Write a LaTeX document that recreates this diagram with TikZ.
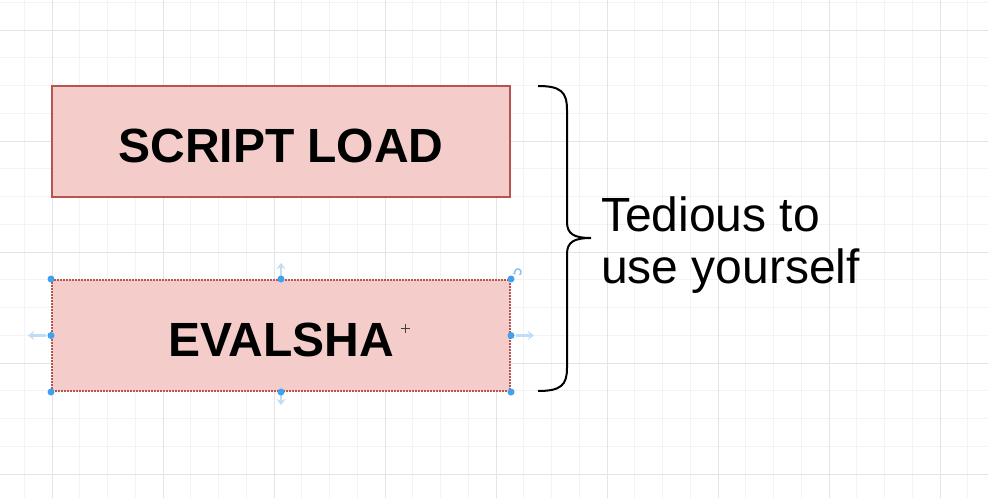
\documentclass[tikz,border=0pt]{standalone}
\usepackage{fontspec}
\setmainfont{Liberation Sans}
\definecolor{boxfill}{HTML}{F4CDCB}
\definecolor{boxline}{HTML}{B85450}
\definecolor{gridminor}{HTML}{F3F3F3}
\definecolor{gridmajor}{HTML}{E4E4E4}
\definecolor{handle}{HTML}{3EA2EE}
\definecolor{handlefaint}{HTML}{BFDDF6}
\tikzset{
  box/.style={draw=boxline, line width=2pt, fill=boxfill, minimum width=458pt, minimum height=111pt, inner sep=0pt, text height=42pt, text depth=0pt, font=\fontsize{48}{50}\selectfont\bfseries},
  hdot/.style={circle, fill=handle, minimum size=7pt, inner sep=0pt},
  harrow/.style={draw=handlefaint, line width=2.2pt, -{Stealth[length=6pt,width=9pt]}},
  bracestyle/.style={draw=black, line width=2pt},
}
\usetikzlibrary{arrows.meta}
\begin{document}
\begin{tikzpicture}[x=1pt,y=-1pt]
\path[use as bounding box, fill=white] (0,0) rectangle (988,498);
% grid
\foreach \i in {0,...,35} {
  \pgfmathsetmacro{\gx}{24.25+27.75*\i}
  \draw[gridminor, line width=0.8pt] (\gx,0) -- (\gx,498);
}
\foreach \i in {0,...,18} {
  \pgfmathsetmacro{\gy}{2.25+27.75*\i}
  \draw[gridminor, line width=0.8pt] (0,\gy) -- (988,\gy);
}
\foreach \i in {0,...,8} {
  \pgfmathsetmacro{\gx}{52+111*\i}
  \draw[gridmajor, line width=0.8pt] (\gx,0) -- (\gx,498);
}
\foreach \i in {0,...,4} {
  \pgfmathsetmacro{\gy}{30+111*\i}
  \draw[gridmajor, line width=0.8pt] (0,\gy) -- (988,\gy);
}
% boxes
\node[box] (load) at (281,141) {SCRIPT LOAD};
\node[box, dash pattern=on 2pt off 1pt] (eval) at (281,335.5) {EVALSHA};
% selection handles
\draw[harrow] ([yshift=-4pt]eval.north) -- ++(0,-20);
\draw[harrow] ([yshift=5pt]eval.south) -- ++(0,18);
\draw[harrow] ([xshift=-5pt]eval.west) -- ++(-18,0);
\draw[harrow] ([xshift=5pt]eval.east) -- ++(18,0);
\foreach \a in {north west,north,north east,east,south east,south,south west,west}
  \node[hdot] at (eval.\a) {};
\draw[handlefaint!50!handle, line width=1.3pt, -{Stealth[length=2.5pt,width=3pt]}] (519.5,275) arc[start angle=-60, end angle=220, radius=3.3pt];
% cursor
\coordinate (cur) at (405,328);
\draw[black!75, line width=1pt] ([xshift=-4.5pt]cur) -- ([xshift=4.5pt]cur) ([yshift=-4.5pt]cur) -- ([yshift=4.5pt]cur);
% brace
\coordinate (btop) at (538,86);
\coordinate (btip) at (591,238);
\coordinate (bbot) at (538,391);
\draw[bracestyle] (btop) .. controls (561,86) and (567,92) .. (567,110) -- (567,222)
  .. controls (567,234) and (574,238) .. (btip)
  .. controls (574,238) and (567,242) .. (567,254) -- (567,368)
  .. controls (567,385) and (561,391) .. (bbot);
% label
\node[anchor=base west, inner sep=0pt, font=\fontsize{48}{52}\selectfont, align=left] (lbl) at (601,283) {Tedious to\\use yourself};
\end{tikzpicture}
\end{document}
